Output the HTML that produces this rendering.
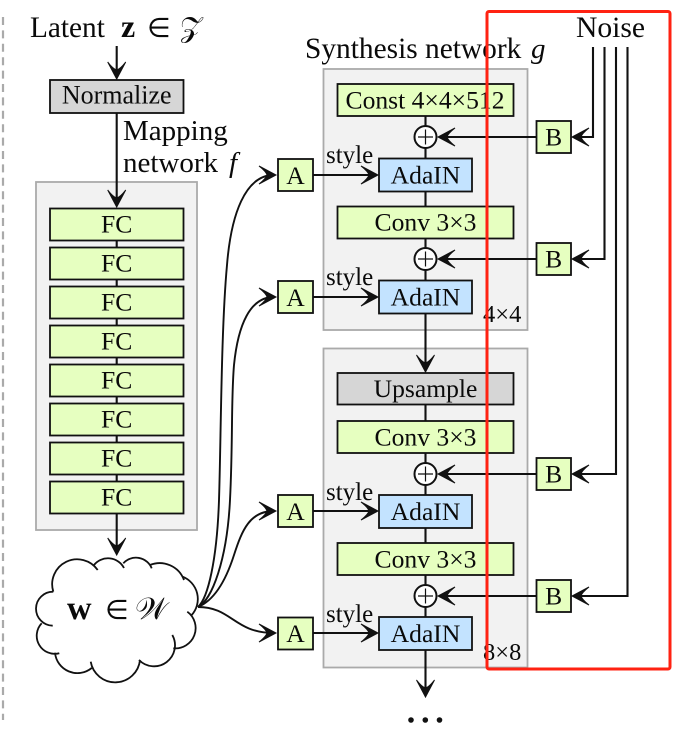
<!DOCTYPE html>
<html>
<head>
<meta charset="utf-8">
<style>
html,body{margin:0;padding:0;background:#fff;width:689px;height:736px;overflow:hidden}
svg{display:block}
text{font-family:"Liberation Serif","DejaVu Serif",serif;fill:#0a0a0a}
.c{text-anchor:middle}
.s{font-size:25.6px}
.l{font-size:29px}
.b{stroke:#111;stroke-width:1.8}
.g{fill:#e6ffc0}.u{fill:#c3e3ff}.y{fill:#d6d6d6}
.w{fill:none;stroke:#111;stroke-width:2.1}
.k{fill:none;stroke:#111;stroke-width:1.9}
.p{fill:#f2f2f2;stroke:#aaa;stroke-width:1.8}
</style>
</head>
<body>
<svg width="689" height="736" viewBox="0 0 689 736" xmlns="http://www.w3.org/2000/svg">
<defs>
<marker id="a" markerUnits="userSpaceOnUse" markerWidth="24" markerHeight="24" refX="-2" refY="0" viewBox="-20 -12 24 24" orient="auto" overflow="visible">
<path d="M-17,-9 L0,0 L-17,9 Q-10,3.5 -9,0 Q-10,-3.5 -17,-9 Z" fill="#111" stroke="#111" stroke-width="1"/>
</marker>
</defs>

<line x1="3" y1="17" x2="3" y2="720" stroke="#aaa" stroke-width="2.2" stroke-dasharray="8 5.4"/>

<rect class="p" x="36" y="182" width="161" height="348"/>
<rect class="p" x="323.5" y="69" width="204" height="261"/>
<rect class="p" x="323.5" y="348.5" width="204" height="319"/>

<!-- mapping network lines -->
<path class="w" d="M116.7,46V77" marker-end="url(#a)"/>
<path class="w" d="M116.7,113V205" marker-end="url(#a)"/>
<path class="w" d="M116.7,240V482"/>
<path class="w" d="M116.7,513V553" marker-end="url(#a)"/>

<!-- synthesis trunk -->
<path class="w" d="M425.5,116V158M425.5,191V207M425.5,238V281"/>
<path class="w" d="M425.5,313V370" marker-end="url(#a)"/>
<path class="w" d="M425.5,404V421M425.5,453V495M425.5,528V543M425.5,575V617"/>
<path class="w" d="M425.5,650V695" marker-end="url(#a)"/>

<!-- style arrows -->
<path class="w" d="M313,175H376" marker-end="url(#a)"/>
<path class="w" d="M313,297H376" marker-end="url(#a)"/>
<path class="w" d="M313,511H376" marker-end="url(#a)"/>
<path class="w" d="M313,633H376" marker-end="url(#a)"/>

<!-- B to plus -->
<path class="w" d="M536,137H440" marker-end="url(#a)"/>
<path class="w" d="M536,259H440" marker-end="url(#a)"/>
<path class="w" d="M536,474H440" marker-end="url(#a)"/>
<path class="w" d="M536,596H440" marker-end="url(#a)"/>

<!-- noise -->
<path class="w" d="M593,47V137H574" marker-end="url(#a)"/>
<path class="w" d="M604.5,47V259H574" marker-end="url(#a)"/>
<path class="w" d="M616,47V474H574" marker-end="url(#a)"/>
<path class="w" d="M627.5,47V596H574" marker-end="url(#a)"/>

<!-- curves -->
<path class="k" d="M198,607C208,598 217,560 219,500C221,440 221,330 227,265C231,215 245,175 274,175" marker-end="url(#a)"/>
<path class="k" d="M198,607C212,600 227,560 230,500C233,440 231,400 234,365C238,325 250,297 274,297" marker-end="url(#a)"/>
<path class="k" d="M198,607C215,600 226,580 234,555C242,530 250,511 274,511" marker-end="url(#a)"/>
<path class="k" d="M198,607C232,607 234,633 274,633" marker-end="url(#a)"/>

<!-- cloud -->
<path d="M53.3,591.7A25,25 0 0 1 97.7,570M94,565A18,18 0 0 1 124,568M123.3,563.3A17,17 0 0 1 151.7,568.3M150,565A26,26 0 0 1 184,580M182.7,576.7A24,24 0 0 1 191.7,615M187.3,611.7A20.3,20.3 0 0 1 173.3,648.3M172.3,635A21,21 0 0 1 139,660M140,660A24.9,24.9 0 0 1 90.7,661.7M91.7,668A22.5,22.5 0 0 1 55,652.7M59.3,653.3A18.1,18.1 0 0 1 41.7,623.3M52.7,625.7A17,17 0 0 1 53.3,591.7" fill="none" stroke="#111" stroke-width="1.8"/>

<!-- boxes -->
<rect class="b y" x="50" y="80" width="133.5" height="33"/>
<rect class="b g" x="50" y="208.5" width="133.5" height="32"/>
<rect class="b g" x="50" y="247.5" width="133.5" height="32"/>
<rect class="b g" x="50" y="286.5" width="133.5" height="32"/>
<rect class="b g" x="50" y="325.5" width="133.5" height="32"/>
<rect class="b g" x="50" y="364.5" width="133.5" height="32"/>
<rect class="b g" x="50" y="403.5" width="133.5" height="32"/>
<rect class="b g" x="50" y="442.5" width="133.5" height="32"/>
<rect class="b g" x="50" y="481.5" width="133.5" height="32"/>

<rect class="b g" x="337.5" y="84" width="176" height="32"/>
<rect class="b u" x="379" y="158.5" width="93" height="33"/>
<rect class="b g" x="337.5" y="206.5" width="176" height="32"/>
<rect class="b u" x="379" y="280.5" width="93" height="33"/>
<rect class="b y" x="337.5" y="373" width="176" height="31.5"/>
<rect class="b g" x="337.5" y="421" width="176" height="32"/>
<rect class="b u" x="379" y="495" width="93" height="33"/>
<rect class="b g" x="337.5" y="543" width="176" height="32"/>
<rect class="b u" x="379" y="617" width="93" height="33"/>

<rect class="b g" x="278" y="159" width="35" height="32"/>
<rect class="b g" x="278" y="281" width="35" height="32"/>
<rect class="b g" x="278" y="495" width="35" height="32"/>
<rect class="b g" x="278" y="617.5" width="35" height="32"/>

<rect class="b g" x="536.5" y="121" width="34.5" height="32"/>
<rect class="b g" x="536.5" y="243" width="34.5" height="32"/>
<rect class="b g" x="536.5" y="458" width="34.5" height="32"/>
<rect class="b g" x="536.5" y="580" width="34.5" height="32"/>

<!-- plus nodes -->
<g fill="#fff" stroke="#111" stroke-width="2">
<circle cx="425.5" cy="137" r="11"/>
<circle cx="425.5" cy="259" r="11"/>
<circle cx="425.5" cy="474" r="11"/>
<circle cx="425.5" cy="596" r="11"/>
</g>
<path d="M418,137H433M425.5,129.5V144.5M418,259H433M425.5,251.5V266.5M418,474H433M425.5,466.5V481.5M418,596H433M425.5,588.5V603.5" stroke="#111" stroke-width="1.2" fill="none"/>

<!-- text -->
<text x="30" y="37" style="font-size:29.3px">Latent</text>
<text x="121" y="37" font-size="32" font-weight="bold">z</text>
<text x="147" y="37" font-size="27" style="font-family:'DejaVu Sans',sans-serif">∈</text>
<text x="180" y="37" font-size="29" style="font-family:'DejaVu Sans','DejaVu Serif',serif">𝒵</text>
<text class="c" x="116.7" y="103.5" style="font-size:26px">Normalize</text>
<text class="l" x="123" y="140">Mapping</text>
<text class="l" x="123" y="172">network</text>
<text class="l" x="229" y="172" font-style="italic">f</text>

<text class="s c" x="116.7" y="232.5">FC</text>
<text class="s c" x="116.7" y="271.5">FC</text>
<text class="s c" x="116.7" y="310.5">FC</text>
<text class="s c" x="116.7" y="349.5">FC</text>
<text class="s c" x="116.7" y="388.5">FC</text>
<text class="s c" x="116.7" y="427.5">FC</text>
<text class="s c" x="116.7" y="466.5">FC</text>
<text class="s c" x="116.7" y="505.5">FC</text>

<text x="67" y="619" font-size="34" font-weight="bold">w</text>
<text x="105" y="619" font-size="27" style="font-family:'DejaVu Sans',sans-serif">∈</text>
<text x="135" y="619" font-size="31" style="font-family:'DejaVu Sans','DejaVu Serif',serif">𝒲</text>

<text x="305" y="58" style="font-size:29.4px">Synthesis network</text>
<text class="l" x="531" y="58" font-style="italic">g</text>
<text x="576" y="37" style="font-size:29.6px">Noise</text>

<text class="s c" x="425" y="108.5">Const 4×4×512</text>
<text class="s c" x="425.5" y="183.5">AdaIN</text>
<text class="s c" x="425.5" y="230.5">Conv 3×3</text>
<text class="s c" x="425.5" y="305.5">AdaIN</text>
<text class="s c" x="425.5" y="397">Upsample</text>
<text class="s c" x="425.5" y="445.5">Conv 3×3</text>
<text class="s c" x="425.5" y="520">AdaIN</text>
<text class="s c" x="425.5" y="567.5">Conv 3×3</text>
<text class="s c" x="425.5" y="642">AdaIN</text>

<text class="s" x="326" y="163" style="font-size:25px">style</text>
<text class="s" x="326" y="285" style="font-size:25px">style</text>
<text class="s" x="326" y="500" style="font-size:25px">style</text>
<text class="s" x="326" y="622" style="font-size:25px">style</text>

<text class="s" x="483" y="322" style="font-size:24.5px">4×4</text>
<text class="s" x="483" y="660" style="font-size:24.5px">8×8</text>

<text class="s c" x="295.5" y="184">A</text>
<text class="s c" x="295.5" y="306">A</text>
<text class="s c" x="295.5" y="520">A</text>
<text class="s c" x="295.5" y="642">A</text>
<text class="s c" x="553.7" y="145.5">B</text>
<text class="s c" x="553.7" y="267.5">B</text>
<text class="s c" x="553.7" y="482.5">B</text>
<text class="s c" x="553.7" y="604.5">B</text>

<circle cx="411" cy="720" r="2.8" fill="#111"/>
<circle cx="425.3" cy="720" r="2.8" fill="#111"/>
<circle cx="439.5" cy="720" r="2.8" fill="#111"/>

<rect x="487" y="11.5" width="183" height="657.5" rx="2" fill="none" stroke="#ff2212" stroke-width="3"/>
</svg>
</body>
</html>
